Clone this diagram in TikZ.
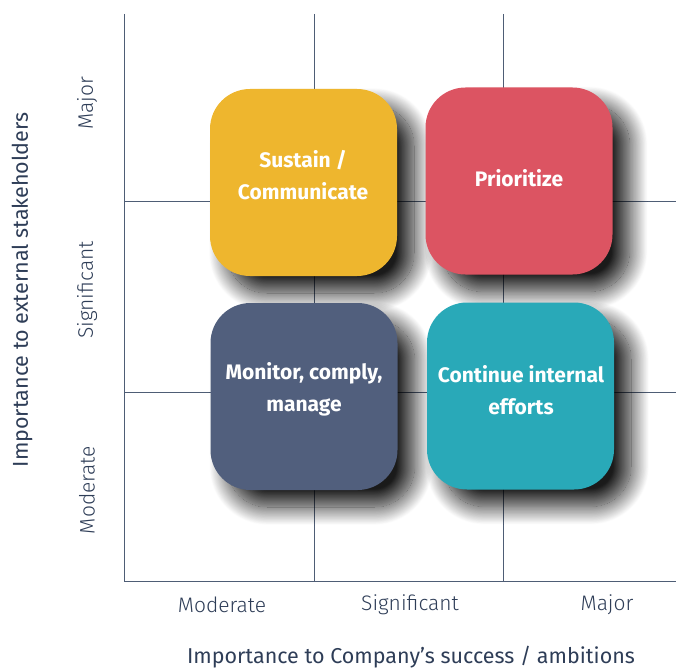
\documentclass[tikz,border=0pt]{standalone}
\usepackage{fontspec}
\setmainfont{Fira Sans}
\newfontfamily\lightfont{Fira Sans Light}
\usetikzlibrary{shadows.blur}

\definecolor{gridline}{HTML}{4E5D75}
\definecolor{ticktext}{HTML}{2E3D57}
\definecolor{sustainfill}{HTML}{EEB62E}
\definecolor{priofill}{HTML}{DC5462}
\definecolor{monitorfill}{HTML}{515F7D}
\definecolor{effortfill}{HTML}{29A9B8}

\begin{document}
\begin{tikzpicture}[x=1pt, y=-1pt,
    tile/.style={
        rectangle, rounded corners=40pt,
        minimum width=187pt, minimum height=187pt,
        blur shadow={shadow xshift=17pt, shadow yshift=-17pt,
            shadow blur radius=18pt, shadow blur steps=30,
            shadow opacity=90}
    },
    tiletext/.style={
        text=white, align=center, font=\fontsize{21}{32}\selectfont\bfseries
    },
    tick/.style={text=ticktext, font=\fontsize{21}{24}\selectfont\lightfont},
    axistitle/.style={text=ticktext, font=\fontsize{21.5}{24}\selectfont}
    ]
    \useasboundingbox (0,0) rectangle (676,668);

    % grid
    \draw [gridline, line width=1pt] (124,14) -- (124,581) -- (676,581);
    \draw [gridline, line width=1pt] (314,14) -- (314,581);
    \draw [gridline, line width=1pt] (503,14) -- (503,581);
    \draw [gridline, line width=1pt] (124,202) -- (676,202);
    \draw [gridline, line width=1pt] (124,392) -- (676,392);

    % quadrants
    \node (sustain) [tile, fill=sustainfill] at (303.5,182.5) {};
    \node (prioritize) [tile, fill=priofill] at (519,181) {};
    \node (monitor) [tile, fill=monitorfill] at (304,396.5) {};
    \node (continue) [tile, fill=effortfill] at (520.5,396) {};

    \node (sustain-text) [tiletext] at (303,175) {Sustain /\\Communicate};
    \node (prioritize-text) [tiletext] at (519,178) {Prioritize};
    \node (monitor-text) [tiletext] at (304,389) {Monitor, comply,\\manage};
    \node (continue-text) [tiletext] at (521,390) {Continue internal\\efforts};

    % axis ticks
    \node (x-moderate) [tick] at (222,605) {Moderate};
    \node (x-significant) [tick] at (410,605) {Significant};
    \node (x-major) [tick] at (607,605) {Major};
    \node (y-moderate) [tick, rotate=90] at (87,490) {Moderate};
    \node (y-significant) [tick, rotate=90] at (87,290) {Significant};
    \node (y-major) [tick, rotate=90] at (87,103) {Major};

    % axis titles
    \node (x-title) [axistitle] at (411,657) {Importance to Company’s success / ambitions};
    \node (y-title) [axistitle, rotate=90] at (22,290) {Importance to external stakeholders};
\end{tikzpicture}
\end{document}
